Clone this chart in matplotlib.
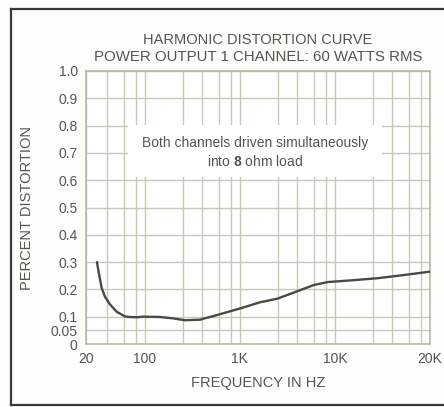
import matplotlib
matplotlib.use('Agg')
import matplotlib.pyplot as plt
from matplotlib.lines import Line2D
from matplotlib.patches import Rectangle
import numpy as np

plt.rcParams['font.family'] = ['Liberation Sans', 'DejaVu Sans']
plt.rcParams['mathtext.fontset'] = 'custom'
plt.rcParams['mathtext.bf'] = 'Liberation Sans:bold'

# curve (frequency as labelled, THD in %)
freq_hz = [27, 28, 30.7, 33.6, 38.5, 46.3, 58, 66, 80, 95, 144, 197, 264,
           379, 573, 1000, 1632, 2475, 3661, 5980, 8425, 11225, 13640,
           16110, 20000]
distortion = [0.30, 0.27, 0.205, 0.173, 0.145, 0.118, 0.101, 0.099, 0.098,
              0.1, 0.099, 0.094, 0.087, 0.089, 0.106, 0.130, 0.153, 0.166,
              0.188, 0.216, 0.227, 0.233, 0.241, 0.251, 0.265]

x_tick_hz = [20, 100, 1000, 10000, 20000]
x_tick_labels = ['20', '100', '1K', '10K', '20K']
y_ticks = [0, 0.05, 0.1, 0.2, 0.3, 0.4, 0.5, 0.6, 0.7, 0.8, 0.9, 1.0]
y_tick_labels = ['0', '0.05', '0.1', '0.2', '0.3', '0.4', '0.5', '0.6',
                 '0.7', '0.8', '0.9', '1.0']

# the printed log paper does not match its labels; map labelled Hz onto it
label_log = np.log10([20, 100, 1000, 10000, 20000])
paper_log = np.array([np.log10(24), 2, 3, 4, 5])
paper_grid = [40, 60, 80, 100, 250, 400, 600, 800, 1000, 2500, 4000, 6000,
              8000, 10000, 25000, 40000, 60000, 80000]


def fwd(f):
    f = np.clip(np.asarray(f, dtype=float), 1e-3, None)
    return np.interp(np.log10(f), label_log, paper_log)


def inv(p):
    return 10 ** np.interp(np.asarray(p, dtype=float), paper_log, label_log)


grid_c = '#c8c8b4'
text_c = '#555550'

fig = plt.figure(figsize=(4.44, 4.07), dpi=100, facecolor='#fdfdf9')
ax = fig.add_axes([86 / 444, 1 - 344 / 407, 344 / 444, 273 / 407])
ax.set_facecolor('white')
ax.set_xscale('function', functions=(fwd, inv))
ax.set_xlim(20, 20000)
ax.set_ylim(0, 1.0)

ax.set_xticks(x_tick_hz)
ax.set_xticklabels(x_tick_labels)
ax.set_xticks(inv(np.log10(paper_grid)), minor=True)
ax.set_yticks(y_ticks)
ax.set_yticklabels(y_tick_labels)
ax.tick_params(which='both', length=0, labelsize=10, colors=text_c, pad=6)
ax.grid(True, which='both', color=grid_c, lw=1)
for s in ax.spines.values():
    s.set_color('#b4b49e')
    s.set_linewidth(1.1)

# white label box over the grid
ax.add_patch(Rectangle((0.122, 0.612), 0.738, 0.19, transform=ax.transAxes,
                       facecolor='white', edgecolor='none', zorder=2))
ax.text(0.491, 0.735, 'Both channels driven simultaneously',
        transform=ax.transAxes, ha='center', va='center', fontsize=10,
        color=text_c, zorder=3)
ax.text(0.491, 0.668, r'into $\mathbf{8}$ ohm load',
        transform=ax.transAxes, ha='center', va='center', fontsize=10,
        color=text_c, zorder=3)

ax.plot(freq_hz, distortion, color='#4a4a44', lw=1.7,
        solid_joinstyle='round', solid_capstyle='round', zorder=4)

ax.set_xlabel('FREQUENCY IN HZ', fontsize=10.5, color=text_c, labelpad=7)
ax.set_ylabel('PERCENT DISTORTION', fontsize=10.5, color=text_c, labelpad=12)

fig.text(258 / 444, 1 - 40 / 407, 'HARMONIC DISTORTION CURVE', ha='center',
         va='center', fontsize=10.5, color=text_c)
fig.text(258 / 444, 1 - 57 / 407, 'POWER OUTPUT 1 CHANNEL: 60 WATTS RMS',
         ha='center', va='center', fontsize=10.8, color=text_c)

# outer frame of the printed page
frame = dict(color='#3a3a36', lw=1.6, transform=fig.transFigure)
fig.add_artist(Line2D([11 / 444, 1.01], [1 - 9 / 407] * 2, **frame))
fig.add_artist(Line2D([11 / 444] * 2, [1 - 9 / 407, 1 - 405 / 407], **frame))
fig.add_artist(Line2D([11 / 444, 1.01], [1 - 405 / 407] * 2, **frame))

fig.savefig('out.png', dpi=100, facecolor=fig.get_facecolor())
